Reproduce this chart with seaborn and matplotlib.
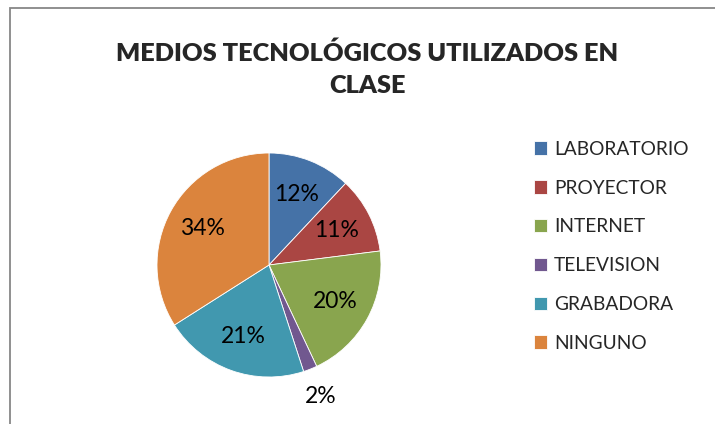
import matplotlib
matplotlib.use("Agg")
import matplotlib.pyplot as plt
from matplotlib.patches import Rectangle
import seaborn as sns

# data
categorias = ['LABORATORIO', 'PROYECTOR', 'INTERNET', 'TELEVISION', 'GRABADORA', 'NINGUNO']
porcentajes = [12, 11, 20, 2, 21, 34]
colores = ['#4572A7', '#AA4643', '#89A54E', '#71588F', '#4198AF', '#DB843D']
titulo = 'MEDIOS TECNOLÓGICOS UTILIZADOS EN\nCLASE'

sns.set_theme(style='white')
plt.rcParams['font.family'] = ['Lato', 'DejaVu Sans']

W, H = 715, 424
fig = plt.figure(figsize=(W / 100, H / 100), dpi=100)
fig.patch.set_facecolor('white')

# chart area border (only left/top visible in the crop)
fig.patches.append(Rectangle((10 / W, -0.1), 1.2, 1.1 - 8 / H, transform=fig.transFigure,
                             fill=False, edgecolor='#878787', linewidth=1.3))

cx, cy, r = 269, 265, 112
ax = fig.add_axes([(cx - r) / W, (H - cy - r) / H, 2 * r / W, 2 * r / H])
wedges, textos, pcts = ax.pie(porcentajes, colors=colores, startangle=90, counterclock=False,
                              autopct='%d%%', pctdistance=0.68,
                              wedgeprops=dict(edgecolor='white', linewidth=0.6),
                              textprops=dict(fontsize=16.5, color='black'))
ax.set_xlim(-1, 1)
ax.set_ylim(-1, 1)
ax.set_aspect('equal')

# small slice label sits outside the pie
for p, v in zip(pcts, porcentajes):
    if v < 5:
        x, y = p.get_position()
        p.set_position((x * 1.85, y * 1.85))

fig.text(367 / W, 1 - 69 / H, titulo, ha='center', va='center', fontsize=18.3,
         fontweight='heavy', linespacing=1.55)

fig.legend(wedges, categorias, loc='upper left', bbox_to_anchor=(526 / W, 1 - 133 / H),
           frameon=False, fontsize=13.8, handlelength=0.7, handleheight=0.7,
           handletextpad=0.35, labelspacing=1.14, borderaxespad=0)

fig.savefig('out.png', dpi=100)
